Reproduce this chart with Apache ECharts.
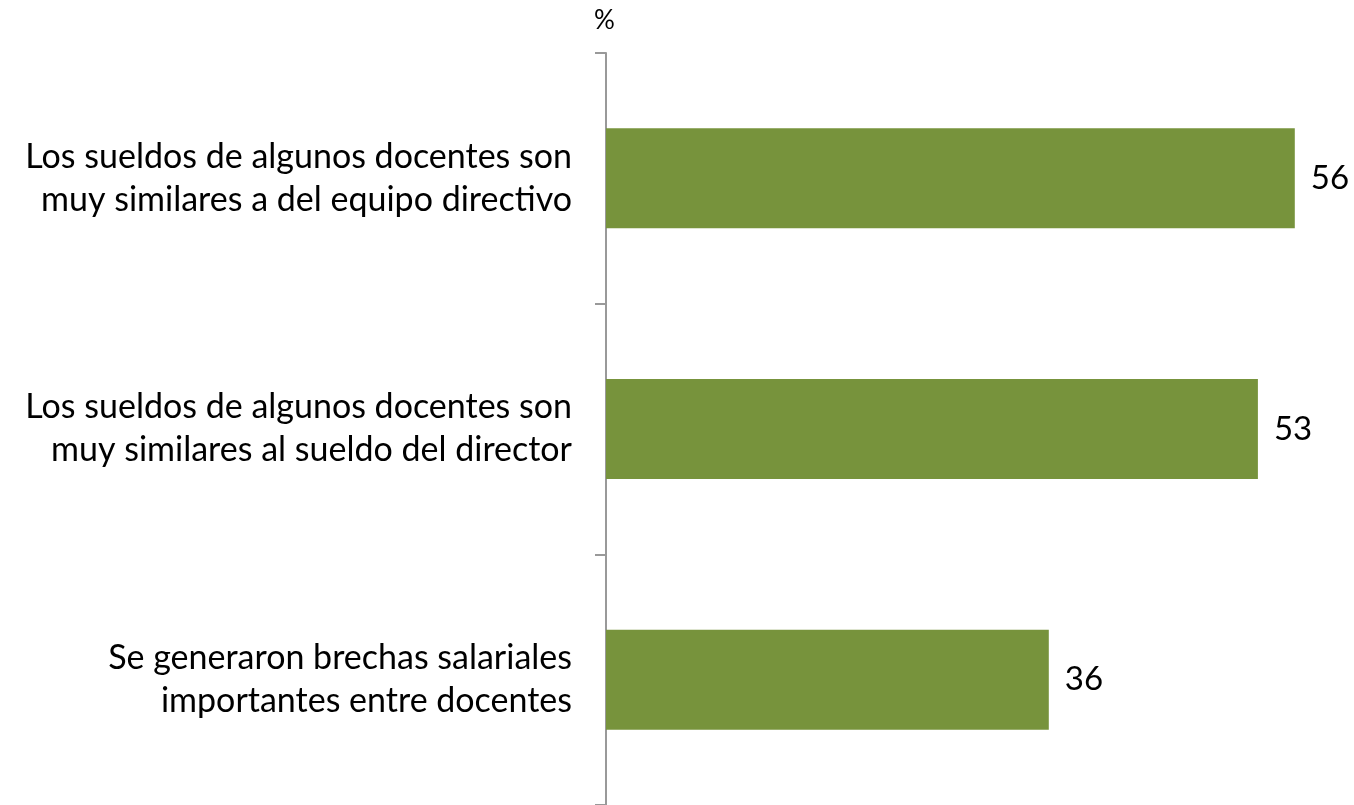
<!DOCTYPE html>
<html>
<head>
<meta charset="utf-8">
<script src="https://cdn.jsdelivr.net/npm/echarts@6/dist/echarts.min.js"></script>
<style>
  html, body { margin: 0; padding: 0; background: #fff; }
  #chart { width: 1354px; height: 805px; }
</style>
</head>
<body>
<div id="chart"></div>
<script>
var categories = [
  'Los sueldos de algunos docentes son\nmuy similares a del equipo directivo',
  'Los sueldos de algunos docentes son\nmuy similares al sueldo del director',
  'Se generaron brechas salariales\nimportantes entre docentes'
]
var values = [56, 53, 36]
var unitLabel = '%'

var chart = echarts.init(document.getElementById('chart'))
var font = 'Lato, "Open Sans", sans-serif'
chart.setOption({
  animation: false,
  title: {
    text: unitLabel,
    left: 589,
    top: 3,
    textStyle: { fontFamily: font, fontSize: 26, fontWeight: 'normal', color: '#000' }
  },
  grid: {
    left: 606,
    top: 53,
    width: 738,
    height: 756,
    containLabel: false
  },
  xAxis: {
    type: 'value',
    min: 0,
    max: 60,
    show: false
  },
  yAxis: {
    type: 'category',
    inverse: true,
    data: categories,
    axisLine: { show: true, lineStyle: { color: '#999', width: 2 } },
    axisTick: { show: true, length: 11, lineStyle: { color: '#999', width: 2 } },
    axisLabel: {
      margin: 34,
      color: '#000',
      fontFamily: font,
      fontSize: 34,
      lineHeight: 43,
      align: 'right'
    },
    splitLine: { show: false }
  },
  series: [{
    type: 'bar',
    data: values,
    barWidth: 100,
    itemStyle: { color: '#77933C' },
    label: {
      show: true,
      position: 'right',
      distance: 16,
      color: '#000',
      fontFamily: font,
      fontSize: 33
    }
  }]
})
</script>
</body>
</html>
